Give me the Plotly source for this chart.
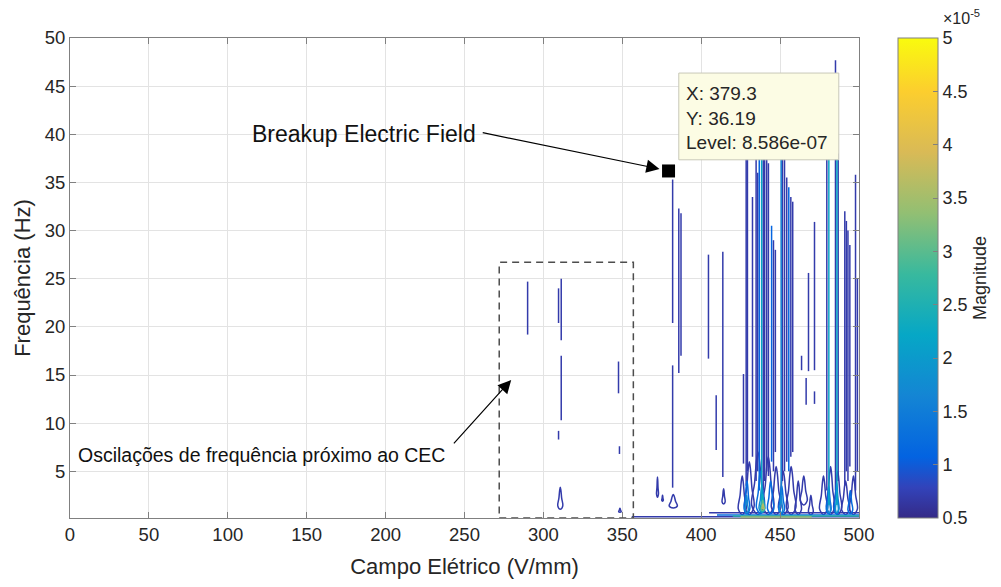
import plotly.graph_objects as go

FONT = "Liberation Sans, Arial, Helvetica, sans-serif"
TXT = "#262626"
AXC = "#808080"

# ---- colour scale (parula) and colour limits (x1e-5) ----
parula = [[0.0, "rgb(53,42,135)"], [0.0635, "rgb(50,67,186)"], [0.127, "rgb(3,99,225)"],
          [0.254, "rgb(20,133,212)"], [0.381, "rgb(6,167,198)"], [0.508, "rgb(56,185,158)"],
          [0.635, "rgb(146,191,115)"], [0.762, "rgb(217,186,86)"], [0.889, "rgb(252,206,46)"],
          [1.0, "rgb(249,251,14)"]]
CMIN, CMAX = 0.5, 5.0
cbar_ticks = [0.5, 1, 1.5, 2, 2.5, 3, 3.5, 4, 4.5, 5]
cbar_text = ["0.5", "1", "1.5", "2", "2.5", "3", "3.5", "4", "4.5", "5"]
x_ticks = [0, 50, 100, 150, 200, 250, 300, 350, 400, 450, 500]
y_ticks = [5, 10, 15, 20, 25, 30, 35, 40, 45, 50]

# ---- narrow vertical contour ridges: field (V/mm), freq low/high (Hz), level (x1e-5) ----
spike_x = [290.0, 311.3, 309.6, 311.3, 309.6, 347.6, 348.2, 381.9, 381.9, 385.8, 387.2,
           404.6, 409.5, 413.7,
           426.8, 428.5, 429.3, 432.5, 434.8, 435.8, 436.8, 438.3, 439.3, 440.2, 441.5,
           442.6, 444.6, 445.8, 447.0, 450.7, 451.5, 452.8, 454.2, 455.5, 456.8, 458.0,
           463.6, 466.5, 468.0, 471.8, 471.8,
           479.6, 480.9, 485.1, 486.0, 486.8, 491.0, 492.0, 493.0, 494.2, 497.8, 499.0]
spike_lo = [19.2, 18.6, 20.4, 10.3, 8.3, 13.1, 6.8, 20.4, 3.3, 15.2, 17.0,
            16.7, 7.2, 4.4,
            5.8, 3.5, 5.0, 6.5, 4.0, 5.0, 3.0, 1.5, 3.0, 4.0, 5.0,
            4.5, 6.0, 5.0, 7.0, 2.5, 4.0, 5.0, 6.0, 5.0, 6.5, 7.0,
            15.5, 11.9, 15.4, 15.5, 12.0,
            3.0, 1.5, 3.0, 1.5, 4.0, 3.5, 5.0, 4.0, 5.5, 3.0, 5.0]
spike_hi = [24.7, 25.0, 24.0, 17.0, 9.2, 16.4, 7.6, 35.3, 16.0, 32.3, 31.8,
            27.5, 12.9, 27.8,
            15.1, 42.0, 42.0, 33.5, 42.0, 36.0, 42.0, 42.0, 42.0, 38.0, 41.0,
            37.0, 30.5, 29.0, 28.0, 42.0, 42.0, 42.0, 35.5, 34.5, 33.5, 33.0,
            17.0, 14.7, 25.6, 30.9, 13.3,
            42.0, 42.0, 47.7, 42.0, 38.0, 32.0, 31.0, 30.0, 28.5, 35.8, 25.0]
spike_lev = ([0.7] * 14 +
             [0.7, 0.7, 0.7, 0.7, 0.7, 0.7, 1.1, 2.2, 0.7, 0.7, 0.7,
              0.7, 1.1, 0.7, 0.7, 1.6, 0.7, 0.7, 0.7, 1.1, 0.7, 0.7,
              0.7, 0.7, 0.7, 0.7, 0.7,
              0.7, 2.2, 0.7, 2.2, 0.7, 0.7, 0.7, 0.7, 0.7, 0.7, 0.7])

# ---- closed contour loops: centre field, half width, freq low/high, level ----
loop_x = [310.7, 348.5, 372.3, 375.5, 382.3, 414.2,
          426.0, 430.5, 436.0, 442.5, 447.5, 452.0, 457.0, 461.5, 465.0, 469.5,
          429.0, 437.5, 444.0, 451.0, 438.5, 428.8, 450.7, 438.8, 439.0, 439.2,
          477.5, 482.0, 486.5, 491.5, 496.5, 480.8, 485.8, 494.5, 481.0, 486.0]
loop_hw = [1.6, 0.8, 0.6, 0.5, 2.6, 1.0,
           2.5, 3.0, 4.0, 3.5, 3.0, 3.0, 3.0, 2.0, 2.2, 1.5,
           1.8, 2.5, 2.0, 1.8, 1.8, 1.0, 1.0, 1.3, 0.9, 0.6,
           2.5, 2.5, 2.5, 2.5, 2.5, 1.5, 1.5, 1.5, 0.9, 0.9]
loop_lo = [1.06, 0.75, 2.3, 1.9, 1.2, 1.6,
           0.5, 0.5, 0.5, 0.5, 0.5, 0.5, 0.5, 0.5, 1.5, 0.5,
           0.6, 0.6, 0.6, 0.6, 0.7, 0.7, 0.7, 0.8, 0.9, 1.1,
           0.5, 0.5, 0.5, 0.5, 0.5, 0.6, 0.6, 0.6, 0.7, 0.7]
loop_hi = [3.35, 1.15, 4.4, 2.5, 2.6, 3.2,
           4.5, 6.0, 7.0, 6.5, 5.5, 5.0, 5.5, 4.0, 4.5, 2.5,
           4.0, 5.0, 4.0, 3.5, 3.5, 2.5, 2.5, 2.6, 2.0, 1.6,
           4.5, 5.5, 5.0, 4.0, 4.5, 3.5, 3.8, 3.0, 2.5, 2.8]
loop_lev = ([0.7] * 16 +
            [1.2, 1.2, 1.2, 1.2, 1.7, 1.7, 1.7, 2.3, 3.0, 3.6,
             0.7, 0.7, 0.7, 0.7, 0.7, 1.2, 1.2, 1.2, 1.7, 1.9])

# ---- contours running along the bottom edge ----
hline_x0 = [356.0, 405.0, 410.0, 420.0, 425.0]
hline_x1 = [500.0, 500.0, 500.0, 500.0, 470.0]
hline_y = [0.28, 0.7, 0.45, 0.35, 0.25]
hline_lev = [0.7, 0.7, 1.2, 2.6, 3.4]

# ---- datatip ----
tip_x, tip_y, tip_level = 379.3, 36.19, "8.586e-07"


def rgb_of(s):
    return [int(v) for v in s[4:-1].split(",")]


def level_color(lev):
    t = min(max((lev - CMIN) / (CMAX - CMIN), 0), 1)
    for (p0, c0), (p1, c1) in zip(parula[:-1], parula[1:]):
        if p0 <= t <= p1:
            f = (t - p0) / (p1 - p0)
            a, b = rgb_of(c0), rgb_of(c1)
            return "rgb(%d,%d,%d)" % tuple(round(a[i] + f * (b[i] - a[i])) for i in range(3))
    return parula[-1][1]


groups = {}


def add_path(lev, xs, ys):
    g = groups.setdefault(lev, ([], []))
    g[0].extend(xs + [None])
    g[1].extend(ys + [None])


for x, lo, hi, lev in zip(spike_x, spike_lo, spike_hi, spike_lev):
    add_path(lev, [x, x], [lo, hi])

FLAME = [(0, 0), (1, 0.15), (0.55, 0.5), (0.25, 0.85), (0, 1), (-0.25, 0.85), (-0.55, 0.5),
         (-1, 0.15), (0, 0)]
for xc, hw, lo, hi, lev in zip(loop_x, loop_hw, loop_lo, loop_hi, loop_lev):
    h = hi - lo
    add_path(lev, [xc + a * hw for a, b in FLAME], [lo + b * h for a, b in FLAME])

for x0, x1, y, lev in zip(hline_x0, hline_x1, hline_y, hline_lev):
    add_path(lev, [x0, x1], [y, y])

fig = go.Figure()
for lev in sorted(groups):
    xs, ys = groups[lev]
    fig.add_trace(go.Scatter(x=xs, y=ys, mode="lines", hoverinfo="skip", showlegend=False,
                             line=dict(color=level_color(lev), width=1.5, shape="spline")))

# colour bar carrier
fig.add_trace(go.Scatter(
    x=[250], y=[-100], mode="markers", hoverinfo="skip", showlegend=False,
    marker=dict(size=1, opacity=0, color=[CMIN], colorscale=parula, cmin=CMIN, cmax=CMAX,
                showscale=True,
                colorbar=dict(x=1.0478, xanchor="left", y=0.5, yanchor="middle", len=1,
                              lenmode="fraction", thickness=40, xpad=0, ypad=0,
                              outlinewidth=1, outlinecolor=AXC, ticks="inside", ticklen=5,
                              tickcolor=AXC, tickvals=cbar_ticks, ticktext=cbar_text,
                              tickfont=dict(family=FONT, size=18, color=TXT),
                              title=dict(text="Magnitude", side="right",
                                         font=dict(family=FONT, size=18, color=TXT))))))

# datatip marker
fig.add_trace(go.Scatter(x=[tip_x], y=[tip_y], mode="markers", hoverinfo="skip", showlegend=False,
                         marker=dict(symbol="square", size=13, color="black")))

axis_common = dict(showgrid=True, gridcolor="#e3e3e3", gridwidth=1, zeroline=False,
                   showline=True, linecolor=AXC, linewidth=1, mirror="ticks",
                   ticks="inside", ticklen=6, tickcolor=AXC,
                   tickfont=dict(family=FONT, size=18.5, color=TXT))

fig.update_layout(
    width=993, height=579,
    margin=dict(l=62, r=141, t=30, b=69),
    plot_bgcolor="white", paper_bgcolor="white",
    font=dict(family=FONT, color=TXT),
    xaxis=dict(range=[0, 500], tickvals=x_ticks,
               title=dict(text="Campo Elétrico (V/mm)", font=dict(family=FONT, size=22, color=TXT),
                          standoff=14), **axis_common),
    yaxis=dict(range=[0.15, 50], tickvals=y_ticks,
               title=dict(text="Frequência (Hz)", font=dict(family=FONT, size=22, color=TXT),
                          standoff=8), **axis_common),
)

# dashed region box
fig.add_shape(type="rect", x0=272, x1=357, y0=0.15, y1=26.7, xref="x", yref="y", layer="above",
              line=dict(color="#4d4d4d", width=1.5, dash="7px,5px"))
# datatip box
fig.add_shape(type="rect", x0=385.8, x1=487.2, y0=37.35, y1=46.36, xref="x", yref="y",
              layer="above", fillcolor="rgb(252,252,228)", line=dict(color="#c8c8b8", width=1))
fig.add_annotation(x=389.4, y=41.68, xref="x", yref="y", xanchor="left", yanchor="middle",
                   align="left", showarrow=False,
                   text="X: %s<br>Y: %s<br>Level: %s" % (tip_x, tip_y, tip_level),
                   font=dict(family=FONT, size=19, color=TXT))

# text annotations with arrows
fig.add_annotation(x=114.2, y=40.05, xref="x", yref="y", xanchor="left", yanchor="middle",
                   showarrow=False, text="Breakup Electric Field",
                   font=dict(family=FONT, size=23, color="#111111"))
fig.add_annotation(x=373.6, y=36.4, ax=260.6, ay=40.2, xref="x", yref="y", axref="x", ayref="y",
                   text="", showarrow=True, arrowhead=2, arrowsize=2.2, arrowwidth=1.2,
                   arrowcolor="black", standoff=0, startstandoff=0)
fig.add_annotation(x=3.9, y=6.7, xref="x", yref="y", xanchor="left", yanchor="middle",
                   showarrow=False, text="Oscilações de frequência próximo ao CEC",
                   font=dict(family=FONT, size=19.5, color="#111111"))
fig.add_annotation(x=279.6, y=14.49, ax=242.4, ay=7.74, xref="x", yref="y", axref="x", ayref="y",
                   text="", showarrow=True, arrowhead=2, arrowsize=2.2, arrowwidth=1.2,
                   arrowcolor="black", standoff=0, startstandoff=0)

# colour-bar exponent
fig.add_annotation(x=1.13, y=1.043, xref="paper", yref="paper", xanchor="center",
                   yanchor="middle", showarrow=False, text="×10<sup>-5</sup>",
                   font=dict(family=FONT, size=16, color=TXT))

fig.write_html("out.html")
